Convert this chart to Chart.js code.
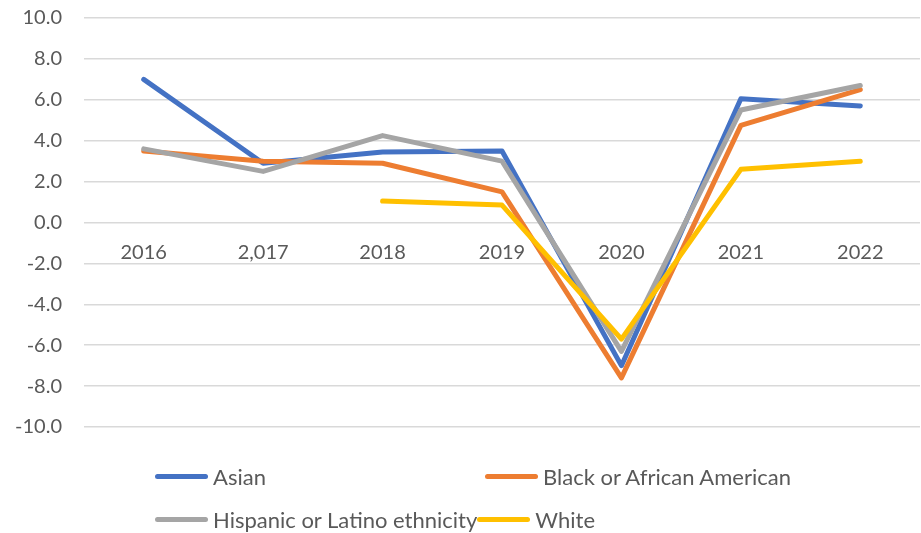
<!DOCTYPE html>
<html>
<head>
<meta charset="utf-8">
<script src="https://cdn.jsdelivr.net/npm/chart.js@4"></script>
<style>
  body { margin: 0; background: #fff; }
  #wrap { position: relative; width: 921px; height: 533px; }
  #legend { position: absolute; left: 155px; top: 455px; font-family: Lato, sans-serif; font-size: 22px; color: #595959; }
  .row { display: flex; height: 43px; align-items: center; }
  .item { display: flex; align-items: center; width: 330px; white-space: nowrap; }
  .swatch { width: 53px; height: 5px; border-radius: 3px; margin-right: 5px; }
</style>
</head>
<body>
<div id="wrap">
  <canvas id="chart" width="921" height="533"></canvas>
  <div id="legend"></div>
</div>
<script>
const years = ['2016', '2,017', '2018', '2019', '2020', '2021', '2022'];
const asian = [7.0, 2.9, 3.45, 3.5, -7.0, 6.05, 5.7];
const black = [3.5, 3.0, 2.9, 1.5, -7.6, 4.75, 6.5];
const hispanic = [3.6, 2.5, 4.25, 3.0, -6.3, 5.5, 6.7];
const white = [null, null, 1.05, 0.85, -5.7, 2.6, 3.0];
const seriesNames = ['Asian', 'Black or African American', 'Hispanic or Latino ethnicity', 'White'];
const seriesColors = ['#4472C4', '#ED7D31', '#A5A5A5', '#FFC000'];

const allData = [asian, black, hispanic, white];
const datasets = allData.map((d, i) => ({
  label: seriesNames[i],
  data: d,
  borderColor: seriesColors[i],
  backgroundColor: seriesColors[i],
  borderWidth: 5,
  pointRadius: 0,
  tension: 0,
  fill: false,
  borderJoinStyle: 'round',
  borderCapStyle: 'round',
  order: 3 - i // later series on top, like the original
}));

const chart = new Chart(document.getElementById('chart'), {
  type: 'line',
  data: { labels: years, datasets: datasets },
  options: {
    responsive: false,
    animation: false,
    layout: { padding: { top: 18, right: 1, bottom: 106, left: 0 } },
    plugins: { legend: { display: false }, tooltip: { enabled: false } },
    scales: {
      x: {
        position: { y: 0 },
        offset: true,
        afterFit: (scale) => { scale.height = 0; },
        grid: { display: false },
        border: { display: false },
        ticks: { color: '#595959', font: { family: 'Lato', size: 20 }, padding: 10, maxRotation: 0 }
      },
      y: {
        min: -10,
        max: 10,
        afterFit: (scale) => {
          // fixed width; tick padding shouldn't push the plot down
          scale.width = 84;
          scale.paddingTop = 0;
          scale.paddingBottom = 0;
        },
        grid: { color: '#d9d9d9', lineWidth: 1.5, drawTicks: false },
        border: { display: false },
        ticks: {
          stepSize: 2,
          color: '#595959',
          font: { family: 'Lato', size: 20 },
          padding: 22,
          callback: (v) => v.toFixed(1)
        }
      }
    }
  }
});

// legend laid out in two fixed columns, as in the original
const legend = document.getElementById('legend');
for (let r = 0; r < 2; r++) {
  const row = document.createElement('div');
  row.className = 'row';
  for (let c = 0; c < 2; c++) {
    const i = r * 2 + c;
    const item = document.createElement('div');
    item.className = 'item';
    if (c === 0 && r === 1) item.style.width = 'auto';
    const sw = document.createElement('span');
    sw.className = 'swatch';
    sw.style.background = seriesColors[i];
    const tx = document.createElement('span');
    tx.textContent = seriesNames[i];
    item.appendChild(sw);
    item.appendChild(tx);
    row.appendChild(item);
  }
  legend.appendChild(row);
}
</script>
</body>
</html>
